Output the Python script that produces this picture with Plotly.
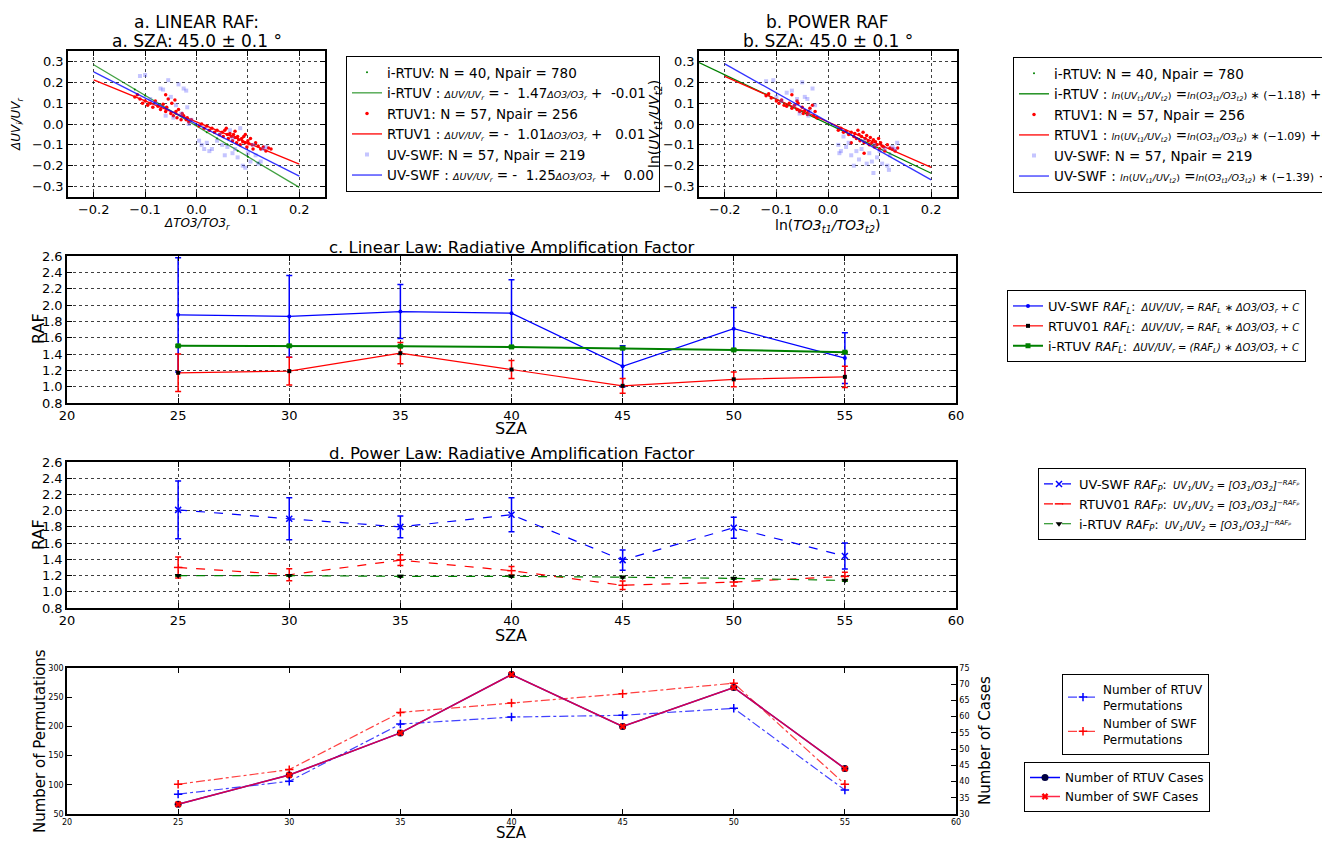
import plotly.graph_objects as go

FONT = "DejaVu Sans"

# ---------------- data ----------------
# panel a: linear RAF scatter at SZA 45
a_rtuv_x = [-0.12, -0.115, -0.11, -0.105, -0.1, -0.095, -0.09, -0.085, -0.08, -0.075, -0.07, -0.065, -0.06, -0.058,
            -0.055, -0.05, -0.048, -0.045, -0.04, -0.038, -0.035, -0.03, -0.028, -0.025, -0.02, -0.018, -0.015, -0.01,
            -0.042, -0.06, 0.005, 0.01, 0.015, 0.02, 0.025, 0.03, 0.035, 0.04, 0.045, 0.05, 0.052, 0.055, 0.06, 0.062,
            0.065, 0.068, 0.07, 0.072, 0.075, 0.078, 0.08, 0.082, 0.085, 0.088, 0.09, 0.092, 0.095, 0.098, 0.1, 0.102,
            0.105, 0.108, 0.11, 0.115, 0.12, 0.125, 0.13, 0.135, 0.14, 0.145, 0.058, 0.075, 0.095]
a_rtuv_y = [0.13, 0.14, 0.12, 0.1, 0.11, 0.09, 0.1, 0.08, 0.11, 0.085, 0.07, 0.095, 0.06, 0.08,
            0.12, 0.05, 0.1, 0.04, 0.06, 0.03, 0.07, 0.02, 0.05, 0.04, 0.02, 0.03, 0.01, 0.02,
            0.115, 0.14, -0.01, 0.0, -0.02, -0.01, -0.03, -0.02, -0.04, -0.03, -0.05, -0.04, -0.06, -0.03, -0.05, -0.07,
            -0.045, -0.06, -0.08, -0.05, -0.065, -0.09, -0.06, -0.075, -0.1, -0.07, -0.085, -0.06, -0.09, -0.11, -0.08, -0.095,
            -0.07, -0.1, -0.12, -0.09, -0.105, -0.12, -0.11, -0.13, -0.115, -0.12, -0.02, -0.035, -0.05]
a_swf_x = [-0.11, -0.1, -0.09, -0.08, -0.07, -0.065, -0.055, -0.05, -0.045, -0.04, -0.035, -0.03, -0.025, -0.02,
           -0.018, -0.015, -0.01, 0.005, 0.01, 0.015, 0.02, 0.025, 0.03, 0.04, 0.05, 0.055, 0.06, 0.065, 0.07, 0.075,
           0.08, 0.085, 0.09, 0.095, 0.1, 0.105, 0.11, 0.115, 0.12, 0.125, 0.13, 0.135, 0.045, 0.07, -0.06]
a_swf_y = [0.23, 0.235, 0.12, 0.1, 0.17, 0.165, 0.21, 0.13, 0.03, 0.09, 0.19, 0.05, 0.17, 0.16,
           0.08, 0.0, 0.02, -0.08, -0.1, -0.12, -0.09, -0.13, -0.12, -0.08, -0.1, -0.15, -0.11, -0.03, -0.14, -0.12,
           -0.16, -0.02, -0.2, -0.21, -0.14, -0.18, -0.1, -0.15, -0.19, -0.18, -0.12, -0.11, -0.05, -0.07, 0.04]
a_irtuv_x = [-0.12, -0.1, -0.08, -0.06, -0.04, -0.02, 0.02, 0.04, 0.06, 0.08, 0.1, 0.12]
a_irtuv_y = [0.166, 0.137, 0.108, 0.078, 0.049, 0.019, -0.039, -0.069, -0.098, -0.128, -0.157, -0.186]
a_fit_x = [-0.2, 0.2]
a_fit_irtuv = [0.284, -0.304]
a_fit_rtuv = [0.212, -0.192]
a_fit_swf = [0.25, -0.25]

# panel b: power RAF scatter at SZA 45
b_rtuv_x = [-0.12, -0.115, -0.11, -0.1, -0.095, -0.09, -0.085, -0.08, -0.075, -0.07, -0.065, -0.06, -0.058, -0.055,
            -0.05, -0.048, -0.045, -0.04, -0.038, -0.035, -0.03, -0.028, -0.025, -0.022, -0.07, -0.06,
            0.02, 0.025, 0.03, 0.035, 0.04, 0.045, 0.05, 0.052, 0.055, 0.06, 0.062, 0.065, 0.068, 0.07, 0.072, 0.075,
            0.078, 0.08, 0.082, 0.085, 0.088, 0.09, 0.092, 0.095, 0.098, 0.1, 0.102, 0.105, 0.108, 0.11, 0.115, 0.12,
            0.125, 0.13, 0.135, 0.058, 0.07, 0.045]
b_rtuv_y = [0.135, 0.145, 0.125, 0.11, 0.1, 0.115, 0.09, 0.085, 0.1, 0.075, 0.09, 0.07, 0.1, 0.06,
            0.08, 0.05, 0.065, 0.045, 0.06, 0.075, 0.09, 0.04, 0.06, 0.03, 0.14, 0.11,
            -0.03, -0.02, -0.04, -0.035, -0.05, -0.04, -0.06, -0.045, -0.07, -0.05, -0.08, -0.06, -0.04, -0.09, -0.07, -0.055,
            -0.08, -0.1, -0.065, -0.09, -0.075, -0.11, -0.085, -0.1, -0.07, -0.12, -0.09, -0.105, -0.11, -0.13, -0.1, -0.115,
            -0.12, -0.13, -0.115, -0.03, -0.14, -0.09]
b_swf_x = [-0.12, -0.106, -0.1, -0.09, -0.08, -0.07, -0.065, -0.06, -0.05, -0.045, -0.04, -0.035, -0.03, -0.025,
           -0.038, -0.055, 0.02, 0.022, 0.025, 0.03, 0.035, 0.04, 0.045, 0.05, 0.055, 0.06, 0.065, 0.07, 0.075, 0.08,
           0.085, 0.088, 0.09, 0.095, 0.1, 0.105, 0.11, 0.115, 0.118, 0.12, 0.125, 0.13, 0.134]
b_swf_y = [0.205, 0.21, 0.13, 0.11, 0.15, 0.16, 0.09, 0.12, 0.2, 0.13, 0.12, 0.06, 0.17, 0.09,
           0.04, 0.05, -0.1, -0.14, -0.13, -0.06, -0.11, -0.09, -0.15, -0.2, -0.13, -0.17, -0.12, -0.08, -0.19, -0.14,
           -0.18, -0.235, -0.1, -0.16, -0.13, -0.19, -0.12, -0.2, -0.22, -0.15, -0.11, -0.12, -0.09]
b_irtuv_x = [-0.12, -0.1, -0.08, -0.06, -0.04, -0.02, 0.02, 0.04, 0.06, 0.08, 0.1, 0.12]
b_irtuv_y = [0.142, 0.118, 0.094, 0.071, 0.047, 0.024, -0.024, -0.047, -0.071, -0.094, -0.118, -0.142]
b_fit_irtuv_x = [-0.25, 0.2]
b_fit_irtuv = [0.295, -0.236]
b_fit_x = [-0.2, 0.2]
b_fit_rtuv = [0.228, -0.208]
b_fit_swf = [0.288, -0.268]

# panels c, d, e
sza = [25, 30, 35, 40, 45, 50, 55]
lin_swf = [1.88, 1.86, 1.92, 1.90, 1.25, 1.71, 1.35]
lin_swf_err = [0.70, 0.50, 0.33, 0.41, 0.25, 0.26, 0.31]
lin_rtuv = [1.17, 1.19, 1.41, 1.21, 1.01, 1.09, 1.12]
lin_rtuv_err = [0.23, 0.17, 0.13, 0.11, 0.09, 0.09, 0.13]
lin_irtuv = [1.50, 1.50, 1.495, 1.487, 1.471, 1.45, 1.422]
lin_irtuv_err = [0.01, 0.01, 0.01, 0.01, 0.01, 0.01, 0.01]

pow_swf = [2.01, 1.90, 1.80, 1.95, 1.39, 1.79, 1.44]
pow_swf_err = [0.355, 0.26, 0.135, 0.21, 0.125, 0.13, 0.16]
pow_rtuv = [1.30, 1.21, 1.39, 1.26, 1.08, 1.12, 1.19]
pow_rtuv_err = [0.13, 0.075, 0.067, 0.053, 0.053, 0.05, 0.05]
pow_irtuv = [1.20, 1.20, 1.19, 1.19, 1.18, 1.165, 1.14]
pow_irtuv_err = [0.01, 0.01, 0.01, 0.01, 0.01, 0.01, 0.01]

perm_rtuv = [84, 106, 204, 216, 219, 231, 91]
perm_swf = [101, 126, 224, 240, 256, 274, 101]
cases_rtuv = [33, 42, 55, 73, 57, 69, 44]
cases_swf = [33, 42, 55, 73, 57, 69, 44]

# ---------------- figure ----------------
# the page body has an 8 px margin, so the figure is drawn 8 px in from the window corner
PAGE = 8
W, H = 1330 - PAGE, 842 - PAGE
def px(x): return (x - PAGE) / W
def py(y): return 1 - (y - PAGE) / H

BLUE, RED, GREEN = "#0000ff", "#ff0000", "#008000"

def m(s, size=10):
    return '<span style="font-size:%spx">%s</span>' % (size, s)

fig = go.Figure()

def sc(x, y, xa, ya, **kw):
    fig.add_trace(go.Scatter(x=x, y=y, xaxis=xa, yaxis=ya, **kw))

LIN_A = m("<i>ΔUV/UV<sub>r</sub></i>", 9.5)
O3_A = m("<i>ΔO3/O3<sub>r</sub></i>", 9.5)
LN_B = m("<i>ln</i>(<i>UV<sub>t1</sub>/UV<sub>t2</sub></i>)", 9.5)
LN_O3 = m("<i>ln</i>(<i>O3<sub>t1</sub>/O3<sub>t2</sub></i>)", 9.5)

# panel a
sc(a_irtuv_x, a_irtuv_y, "x", "y", mode="markers", marker=dict(size=2, color=GREEN),
   name="i-RTUV: N = 40, Npair = 780", legend="legend")
sc(a_fit_x, a_fit_irtuv, "x", "y", mode="lines", line=dict(color="rgba(0,128,0,0.75)", width=1.3),
   name="i-RTUV : " + LIN_A + " = -  1.47" + O3_A + " +  -0.01", legend="legend")
sc(a_rtuv_x, a_rtuv_y, "x", "y", mode="markers", marker=dict(size=3.5, color=RED),
   name="RTUV1: N = 57, Npair = 256", legend="legend")
sc(a_fit_x, a_fit_rtuv, "x", "y", mode="lines", line=dict(color=RED, width=1.3),
   name="RTUV1 : " + LIN_A + " = -  1.01" + O3_A + " +   0.01", legend="legend")
sc(a_swf_x, a_swf_y, "x", "y", mode="markers",
   marker=dict(size=4, symbol="square", color="rgba(90,90,255,0.35)"),
   name="UV-SWF: N = 57, Npair = 219", legend="legend")
sc(a_fit_x, a_fit_swf, "x", "y", mode="lines", line=dict(color="rgba(0,0,255,0.8)", width=1.3),
   name="UV-SWF : " + LIN_A + " = -  1.25" + O3_A + " +   0.00", legend="legend")

# panel b
sc(b_irtuv_x, b_irtuv_y, "x2", "y2", mode="markers", marker=dict(size=2, color=GREEN),
   name="i-RTUV: N = 40, Npair = 780", legend="legend2")
sc(b_fit_irtuv_x, b_fit_irtuv, "x2", "y2", mode="lines", line=dict(color=GREEN, width=1.3),
   name="i-RTUV : " + LN_B + " =" + LN_O3 + m(" ∗ (−1.18)", 11) + " +( -0.00)", legend="legend2")
sc(b_rtuv_x, b_rtuv_y, "x2", "y2", mode="markers", marker=dict(size=3.5, color=RED),
   name="RTUV1: N = 57, Npair = 256", legend="legend2")
sc(b_fit_x, b_fit_rtuv, "x2", "y2", mode="lines", line=dict(color=RED, width=1.3),
   name="RTUV1 : " + LN_B + " =" + LN_O3 + m(" ∗ (−1.09)", 11) + " +(  0.01)", legend="legend2")
sc(b_swf_x, b_swf_y, "x2", "y2", mode="markers",
   marker=dict(size=4, symbol="square", color="rgba(90,90,255,0.35)"),
   name="UV-SWF: N = 57, Npair = 219", legend="legend2")
sc(b_fit_x, b_fit_swf, "x2", "y2", mode="lines", line=dict(color="rgba(0,0,255,0.8)", width=1.3),
   name="UV-SWF : " + LN_B + " =" + LN_O3 + m(" ∗ (−1.39)", 11) + " +(  0.01)", legend="legend2")

# panel c
def eb(arr, color, thick=1.5):
    return dict(type="data", array=arr, color=color, thickness=thick, width=3)

RAFL = m("<i>RAF<sub>L</sub></i>:", 12)
sc(sza, lin_swf, "x3", "y3", mode="lines+markers", line=dict(color=BLUE, width=1.2),
   marker=dict(size=4, color=BLUE), error_y=eb(lin_swf_err, BLUE),
   name="UV-SWF " + RAFL + m("  <i>ΔUV/UV<sub>r</sub> = RAF<sub>L</sub> ∗ ΔO3/O3<sub>r</sub> + C</i>"), legend="legend3")
sc(sza, lin_rtuv, "x3", "y3", mode="lines+markers", line=dict(color=RED, width=1.2),
   marker=dict(size=4, symbol="square", color="black"), error_y=eb(lin_rtuv_err, RED),
   name="RTUV01 " + RAFL + m("  <i>ΔUV/UV<sub>r</sub> = RAF<sub>L</sub> ∗ ΔO3/O3<sub>r</sub> + C</i>"), legend="legend3")
sc(sza, lin_irtuv, "x3", "y3", mode="lines+markers", line=dict(color=GREEN, width=2),
   marker=dict(size=5, symbol="square", color=GREEN), error_y=eb(lin_irtuv_err, GREEN),
   name="i-RTUV " + RAFL + m("  <i>ΔUV/UV<sub>r</sub> = (RAF<sub>L</sub>) ∗ ΔO3/O3<sub>r</sub> + C</i>"), legend="legend3")

# panel d
RAFP = m("<i>RAF<sub>P</sub></i>:", 12)
POWF = m("  <i>UV<sub>1</sub>/UV<sub>2</sub> = [O3<sub>1</sub>/O3<sub>2</sub>]<sup>−RAFₚ</sup></i>")
sc(sza, pow_swf, "x4", "y4", mode="lines+markers", line=dict(color=BLUE, width=1.2, dash="dash"),
   marker=dict(size=6, symbol="x-thin", line=dict(color=BLUE, width=1.5)), error_y=eb(pow_swf_err, BLUE),
   name="UV-SWF " + RAFP + POWF, legend="legend4")
sc(sza, pow_rtuv, "x4", "y4", mode="lines+markers", line=dict(color=RED, width=1.2, dash="dash"),
   marker=dict(size=6, symbol="line-ew", line=dict(color=RED, width=1.5)), error_y=eb(pow_rtuv_err, RED),
   name="RTUV01 " + RAFP + POWF, legend="legend4")
sc(sza, pow_irtuv, "x4", "y4", mode="lines+markers", line=dict(color=GREEN, width=1.2, dash="dash"),
   marker=dict(size=6, symbol="triangle-down", color="black"), error_y=eb(pow_irtuv_err, GREEN),
   name="i-RTUV " + RAFP + POWF, legend="legend4")

# panel e
sc(sza, perm_rtuv, "x5", "y5", mode="lines+markers", line=dict(color="rgba(0,0,255,0.75)", width=1.2, dash="dashdot"),
   marker=dict(size=6, symbol="cross-thin", line=dict(color=BLUE, width=1.5)),
   name="Number of RTUV<br>Permutations", legend="legend5")
sc(sza, perm_swf, "x5", "y5", mode="lines+markers", line=dict(color="rgba(255,0,0,0.75)", width=1.2, dash="dashdot"),
   marker=dict(size=6, symbol="cross-thin", line=dict(color=RED, width=1.5)),
   name="Number of SWF<br>Permutations", legend="legend5")
sc(sza, cases_rtuv, "x5", "y6", mode="lines+markers", line=dict(color=BLUE, width=1.5),
   marker=dict(size=7, color="#000040"),
   name="Number of RTUV Cases", legend="legend6")
sc(sza, cases_swf, "x5", "y6", mode="lines+markers", line=dict(color="rgba(255,0,40,0.85)", width=1.5),
   marker=dict(size=6, symbol="x", color=RED),
   name="Number of SWF Cases", legend="legend6")

# ---------------- axes ----------------
def axis(size=13, grid=True, **kw):
    d = dict(showline=True, linecolor="black", linewidth=1.5, mirror="ticks", ticks="inside", ticklen=5,
             tickcolor="black", showgrid=grid, gridcolor="rgba(0,0,0,0.75)", griddash="dot", gridwidth=1,
             zeroline=False, automargin=False, tickfont=dict(size=size, color="black", family=FONT))
    d.update(kw)
    return d

ya_dom = [py(197), py(51)]
ticks_ab = [-0.2, -0.1, 0.0, 0.1, 0.2]
ticks_ab_y = [-0.3, -0.2, -0.1, 0.0, 0.1, 0.2, 0.3]
c_dom = [px(67), px(956)]

lay = dict(
    xaxis=axis(domain=[px(68), px(325)], range=[-0.25, 0.25], tickvals=ticks_ab, tickformat=".1f", anchor="y"),
    yaxis=axis(domain=ya_dom, range=[-0.35, 0.35], tickvals=ticks_ab_y, tickformat=".1f", anchor="x"),
    xaxis2=axis(domain=[px(699), px(957)], range=[-0.25, 0.25], tickvals=ticks_ab, tickformat=".1f", anchor="y2"),
    yaxis2=axis(domain=ya_dom, range=[-0.35, 0.35], tickvals=ticks_ab_y, tickformat=".1f", anchor="x2"),
    xaxis3=axis(domain=c_dom, range=[20, 60], dtick=5, anchor="y3"),
    yaxis3=axis(domain=[py(403), py(256)], range=[0.8, 2.6], dtick=0.2, tickformat=".1f", anchor="x3"),
    xaxis4=axis(domain=c_dom, range=[20, 60], dtick=5, anchor="y4"),
    yaxis4=axis(domain=[py(608), py(462)], range=[0.8, 2.6], dtick=0.2, tickformat=".1f", anchor="x4"),
    xaxis5=axis(size=8, grid=False, domain=c_dom, range=[20, 60], dtick=5, anchor="y5"),
    yaxis5=axis(size=8, grid=False, domain=[py(814), py(668)], range=[50, 300], dtick=50, anchor="x5", mirror=True),
    yaxis6=axis(size=8, grid=False, domain=[py(814), py(668)], range=[30, 75], dtick=5, anchor="x5",
                overlaying="y5", side="right", mirror=False),
)

def leg(x, y, size=13, xanchor="left", **kw):
    d = dict(x=px(x), y=py(y), xanchor=xanchor, yanchor="top",
             bgcolor="white", bordercolor="black", borderwidth=1,
             font=dict(size=size, color="black", family=FONT), itemwidth=30, tracegroupgap=0)
    d.update(kw)
    return d

lay.update(
    legend=leg(346, 56, 13.5),
    legend2=leg(1013, 57, 13.5),
    legend3=leg(1306, 290, 13, xanchor="right"),
    legend4=leg(1306, 468, 13, xanchor="right"),
    legend5=leg(1062, 674, 12),
    legend6=leg(1024, 762, 12),
)

ann = []
def txt(x, y, text, size, angle=0, xanchor="center", yanchor="middle"):
    ann.append(dict(x=px(x), y=py(y), xref="paper", yref="paper", text=text, showarrow=False,
                    xanchor=xanchor, yanchor=yanchor, textangle=angle,
                    font=dict(size=size, color="black", family=FONT)))

# panel titles
txt(196.5, 22, "a. LINEAR RAF:", 17)
txt(196.5, 41, "a. SZA: 45.0 ± 0.1 °", 17)
txt(828, 22, "b. POWER RAF", 17)
txt(828, 41, "b. SZA: 45.0 ± 0.1 °", 17)
txt(511.5, 247, "c. Linear Law: Radiative Amplification Factor", 16.5)
txt(511.5, 453, "d. Power Law: Radiative Amplification Factor", 16.5)

# axis titles
txt(17, 124, "<i>ΔUV<sub>i</sub>/UV<sub>r</sub></i>", 12, -90)
txt(197, 224, "<i>ΔTO3/TO3<sub>r</sub></i>", 12)
txt(655, 124, "ln(<i>UV<sub>t1</sub>/UV<sub>t2</sub></i>)", 14, -90)
txt(828, 226, "ln(<i>TO3<sub>t1</sub>/TO3<sub>t2</sub></i>)", 14)
txt(38, 329, "RAF", 16, -90)
txt(511, 428, "SZA", 16)
txt(38, 535, "RAF", 16, -90)
txt(511, 635, "SZA", 16)
txt(40, 741, "Number of Permutations", 15, -90)
txt(511, 833, "SZA", 15)
txt(985, 741, "Number of Cases", 15, -90)

fig.update_layout(
    template="none", width=W, height=H, margin=dict(l=0, r=0, t=0, b=0, autoexpand=False),
    paper_bgcolor="white", plot_bgcolor="white",
    font=dict(family=FONT, color="black"),
    showlegend=True, annotations=ann, **lay,
)

fig.write_html("out.html")
